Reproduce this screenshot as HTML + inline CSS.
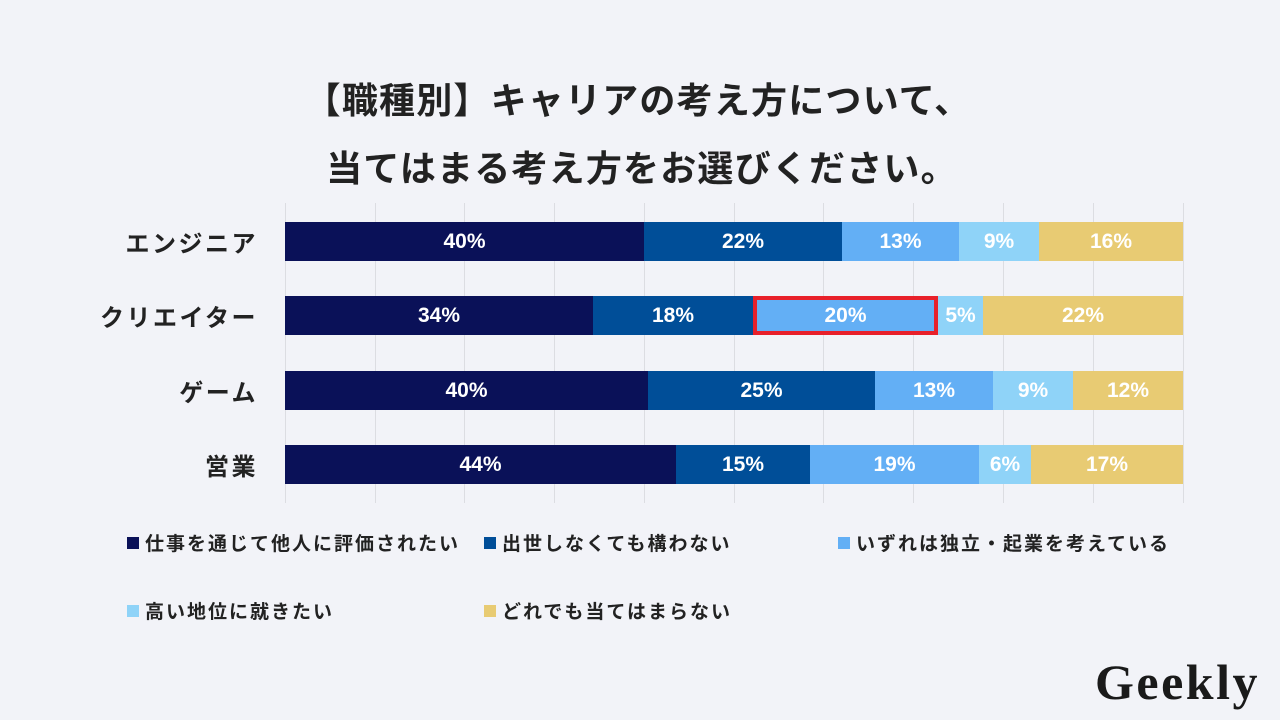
<!DOCTYPE html>
<html><head><meta charset="utf-8"><style>
body{margin:0;width:1280px;height:720px;background:#f2f3f8;position:relative;overflow:hidden;font-family:"Liberation Sans","Noto Sans CJK JP",sans-serif;}
.t{position:absolute;left:0;width:1280px;text-align:center;font-weight:bold;font-size:36px;letter-spacing:1.2px;color:#222;}
.g{position:absolute;top:203px;height:300px;width:1px;background:#dcdde2;}
.s{position:absolute;height:39px;color:#fff;font-weight:bold;font-size:21px;display:flex;align-items:center;justify-content:center;}
.lab{position:absolute;right:1022px;font-weight:bold;font-size:24px;letter-spacing:2.5px;color:#222;height:39px;display:flex;align-items:center;white-space:nowrap;}
.lg{position:absolute;font-weight:bold;font-size:19px;letter-spacing:2px;color:#222;display:flex;align-items:center;white-space:nowrap;}
.lg i{display:inline-block;width:12px;height:12px;margin-right:6px;}
</style></head><body>
<div class="t" style="top:72px;left:-2px">【職種別】キャリアの考え方について、</div>
<div class="t" style="top:140px;left:2px">当てはまる考え方をお選びください。</div>
<div class="g" style="left:285px"></div><div class="g" style="left:375px"></div><div class="g" style="left:464px"></div><div class="g" style="left:554px"></div><div class="g" style="left:644px"></div><div class="g" style="left:734px"></div><div class="g" style="left:823px"></div><div class="g" style="left:913px"></div><div class="g" style="left:1003px"></div><div class="g" style="left:1093px"></div><div class="g" style="left:1183px"></div>

<div class="lab" style="top:222px">エンジニア</div>
<div class="s" style="top:222px;left:285px;width:359px;background:#0a1158">40%</div>
<div class="s" style="top:222px;left:644px;width:198px;background:#004e98">22%</div>
<div class="s" style="top:222px;left:842px;width:117px;background:#63aff5">13%</div>
<div class="s" style="top:222px;left:959px;width:80px;background:#8fd3f8">9%</div>
<div class="s" style="top:222px;left:1039px;width:144px;background:#e8cb73">16%</div>

<div class="lab" style="top:296px">クリエイター</div>
<div class="s" style="top:296px;left:285px;width:308px;background:#0a1158">34%</div>
<div class="s" style="top:296px;left:593px;width:160px;background:#004e98">18%</div>
<div class="s" style="top:296px;left:753px;width:185px;background:#63aff5;box-sizing:border-box;border:4px solid #e8202a">20%</div>
<div class="s" style="top:296px;left:938px;width:45px;background:#8fd3f8">5%</div>
<div class="s" style="top:296px;left:983px;width:200px;background:#e8cb73">22%</div>

<div class="lab" style="top:371px">ゲーム</div>
<div class="s" style="top:371px;left:285px;width:363px;background:#0a1158">40%</div>
<div class="s" style="top:371px;left:648px;width:227px;background:#004e98">25%</div>
<div class="s" style="top:371px;left:875px;width:118px;background:#63aff5">13%</div>
<div class="s" style="top:371px;left:993px;width:80px;background:#8fd3f8">9%</div>
<div class="s" style="top:371px;left:1073px;width:110px;background:#e8cb73">12%</div>

<div class="lab" style="top:445px">営業</div>
<div class="s" style="top:445px;left:285px;width:391px;background:#0a1158">44%</div>
<div class="s" style="top:445px;left:676px;width:134px;background:#004e98">15%</div>
<div class="s" style="top:445px;left:810px;width:169px;background:#63aff5">19%</div>
<div class="s" style="top:445px;left:979px;width:52px;background:#8fd3f8">6%</div>
<div class="s" style="top:445px;left:1031px;width:152px;background:#e8cb73">17%</div>

<div class="lg" style="left:127px;top:529px"><i style="background:#0a1158"></i>仕事を通じて他人に評価されたい</div>
<div class="lg" style="left:484px;top:529px"><i style="background:#004e98"></i>出世しなくても構わない</div>
<div class="lg" style="left:838px;top:529px"><i style="background:#63aff5"></i>いずれは独立・起業を考えている</div>
<div class="lg" style="left:127px;top:597px"><i style="background:#8fd3f8"></i>高い地位に就きたい</div>
<div class="lg" style="left:484px;top:597px"><i style="background:#e8cb73"></i>どれでも当てはまらない</div>

<div style="position:absolute;left:1095px;top:653px;font-family:'Liberation Serif',serif;font-weight:bold;font-size:50px;color:#1a1a1a;letter-spacing:2.5px">Geekly</div>
</body></html>
